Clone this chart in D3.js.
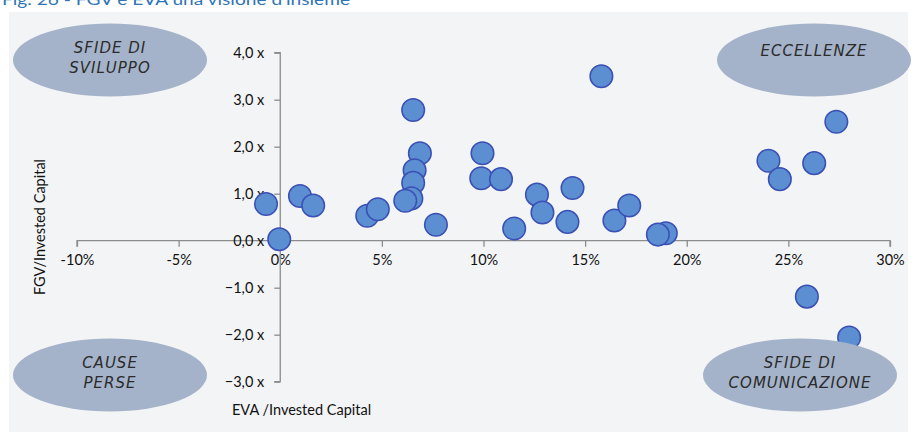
<!DOCTYPE html>
<html>
<head>
<meta charset="utf-8">
<script src="https://cdn.jsdelivr.net/npm/d3@7"></script>
<style>
  html, body { margin: 0; padding: 0; background: #ffffff; }
  svg { display: block; }
</style>
</head>
<body>
<svg id="chart" width="919" height="442"></svg>
<script>
// EVA / Invested Capital (%) and FGV / Invested Capital (x) for each company
const evaValues = [-0.70, -0.05, 0.97, 1.62, 4.28, 4.80, 6.54, 6.87, 6.61, 6.54, 6.45, 6.15, 7.66,
  9.95, 9.89, 10.86, 11.51, 12.63, 12.90, 14.13, 14.38, 15.80, 16.44, 17.17, 18.97, 18.58,
  24.02, 24.58, 26.27, 27.36, 25.91, 27.99];
const fgvValues = [0.78, 0.03, 0.95, 0.75, 0.53, 0.67, 2.78, 1.86, 1.50, 1.23, 0.90, 0.85, 0.34,
  1.86, 1.33, 1.31, 0.26, 0.98, 0.60, 0.40, 1.12, 3.50, 0.43, 0.75, 0.16, 0.13,
  1.70, 1.31, 1.65, 2.53, -1.19, -2.06];

const xTicks = [-10, -5, 0, 5, 10, 15, 20, 25, 30];
const yTicks = [4, 3, 2, 1, 0, -1, -2, -3];

const quadrantLabels = [
  { lines: ["SFIDE DI", "SVILUPPO"], cx: 110, cy: 60 },
  { lines: ["ECCELLENZE"], cx: 814, cy: 60 },
  { lines: ["CAUSE", "PERSE"], cx: 110, cy: 375 },
  { lines: ["SFIDE DI", "COMUNICAZIONE"], cx: 800, cy: 375 }
];

const titleText = "Fig. 26 - FGV e EVA una visione d'insieme";
const xTitle = "EVA /Invested Capital";
const yTitle = "FGV/Invested Capital";

const svg = d3.select("#chart");
const font = "Lato, 'Open Sans', sans-serif";

// title, running along the top edge of the page
svg.append("text")
  .attr("x", 2).attr("y", 5)
  .attr("font-family", font).attr("font-size", 16)
  .attr("fill", "#2f75b5")
  .attr("textLength", 348).attr("lengthAdjust", "spacingAndGlyphs")
  .text(titleText);

// chart area background
svg.append("rect")
  .attr("x", 9).attr("y", 12).attr("width", 899).attr("height", 420)
  .attr("fill", "#f3f4f6");

const x = d3.scaleLinear().domain([-10, 30]).range([77, 890]);
const y = d3.scaleLinear().domain([-3, 4]).range([381.7, 52.7]);

const axisColor = "#8c8c8c";
const labelColor = "#111111";
const labelSize = 14.5;

// horizontal axis through FGV = 0
const gx = svg.append("g")
  .attr("transform", `translate(0,${y(0)})`)
  .call(d3.axisBottom(x).tickValues(xTicks).tickSize(6).tickPadding(8)
    .tickFormat(d => d + "%"));
gx.select(".domain").attr("stroke", axisColor).attr("stroke-width", 1.3)
  .attr("d", `M${x(-10)},6V0H${x(30)}V6`);
gx.selectAll(".tick line").attr("stroke", axisColor).attr("stroke-width", 1.3);
gx.selectAll(".tick text").attr("font-family", font).attr("font-size", labelSize)
  .attr("fill", labelColor);

// vertical axis through EVA = 0
const gy = svg.append("g")
  .attr("transform", `translate(${x(0)},0)`)
  .call(d3.axisLeft(y).tickValues(yTicks).tickSize(6).tickPadding(10)
    .tickFormat(d => d3.format(".1f")(d).replace(".", ",") + " x"));
gy.select(".domain").attr("stroke", axisColor).attr("stroke-width", 1.3)
  .attr("d", `M-6,${y(4)}H0V${y(-3)}H-6`);
gy.selectAll(".tick line").attr("stroke", axisColor).attr("stroke-width", 1.3);
gy.selectAll(".tick text").attr("font-family", font).attr("font-size", labelSize)
  .attr("fill", labelColor);

// axis titles
svg.append("text")
  .attr("x", 232).attr("y", 415)
  .attr("font-family", font).attr("font-size", labelSize).attr("fill", labelColor)
  .text(xTitle);
svg.append("text")
  .attr("transform", `translate(45,227) rotate(-90)`)
  .attr("text-anchor", "middle")
  .attr("font-family", font).attr("font-size", labelSize).attr("fill", labelColor)
  .text(yTitle);

// companies
const points = evaValues.map((v, i) => ({ eva: v, fgv: fgvValues[i] }));
svg.append("g").selectAll("circle")
  .data(points)
  .join("circle")
  .attr("cx", d => x(d.eva))
  .attr("cy", d => y(d.fgv))
  .attr("r", 11.3)
  .attr("fill", "#5b8fd2")
  .attr("stroke", "#3b50b4")
  .attr("stroke-width", 1.5);

// quadrant badges
const q = svg.append("g").selectAll("g")
  .data(quadrantLabels)
  .join("g")
  .attr("transform", d => `translate(${d.cx},${d.cy})`);
q.append("ellipse")
  .attr("rx", 97).attr("ry", 36.5)
  .attr("fill", "#a4b3c9");
q.each(function (d) {
  const g = d3.select(this);
  const n = d.lines.length;
  d.lines.forEach((line, i) => {
    g.append("text")
      .attr("text-anchor", "middle")
      .attr("y", (i - (n - 1) / 2) * 20 + 5 - (n === 1 ? 9 : 2))
      .attr("font-family", "'DejaVu Sans', sans-serif")
      .attr("font-style", "italic")
      .attr("font-weight", 200)
      .attr("font-size", 15)
      .attr("letter-spacing", 1)
      .attr("fill", "#2b2b2b")
      .text(line);
  });
});
</script>
</body>
</html>
